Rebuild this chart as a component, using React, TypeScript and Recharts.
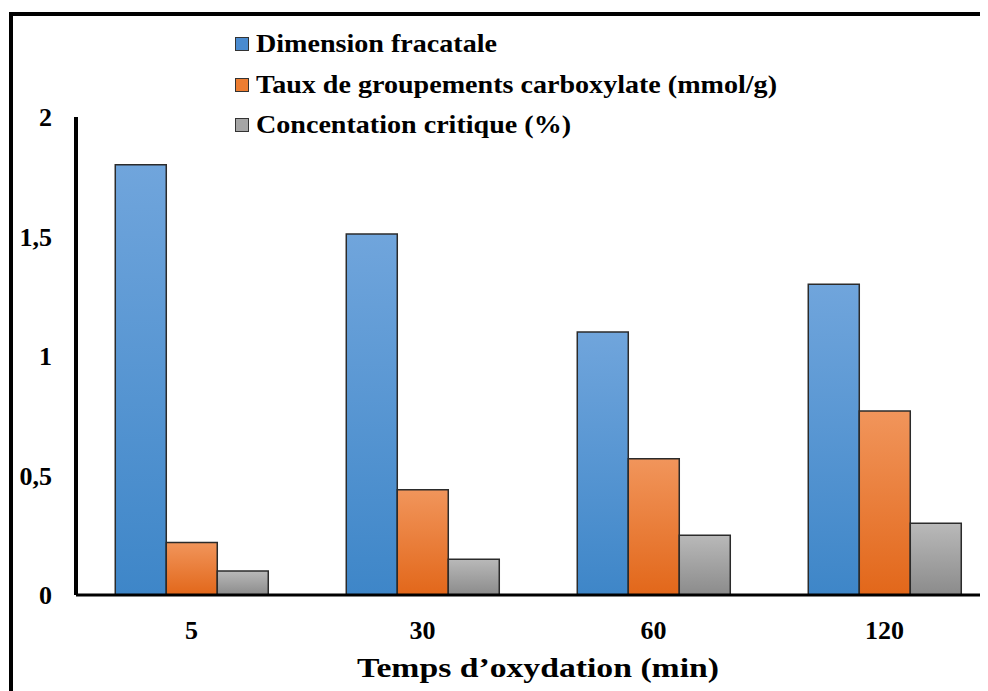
import { BarChart, Bar, XAxis, YAxis, Label } from "recharts";

const temps = ["5", "30", "60", "120"];
const dimensionFractale = [1.8, 1.51, 1.1, 1.3];
const tauxCarboxylate = [0.22, 0.44, 0.57, 0.77];
const concentrationCritique = [0.1, 0.15, 0.25, 0.3];
const yTicks = [0, 0.5, 1, 1.5, 2];

const SERIES = [
  { key: "dim", name: "Dimension fracatale", grad: "gBlue", swatch: "#4a8bd0" },
  { key: "taux", name: "Taux de groupements carboxylate (mmol/g)", grad: "gOrange", swatch: "#ed7d31" },
  { key: "conc", name: "Concentation critique (%)", grad: "gGray", swatch: "#a5a5a5" },
];

const data = temps.map((t, i) => ({
  temps: t,
  dim: dimensionFractale[i],
  taux: tauxCarboxylate[i],
  conc: concentrationCritique[i],
}));

const FONT = '"Liberation Serif", "Times New Roman", serif';

// legend drawn as plain html so it doesn't push the plot area down
function LegendBox() {
  return (
    <div
      style={{
        position: "absolute",
        left: 227,
        top: 16,
        fontFamily: FONT,
        fontWeight: "bold",
        fontSize: 26,
        color: "#000",
      }}
    >
      {SERIES.map((s) => (
        <div key={s.key} style={{ height: 40.5, display: "flex", alignItems: "center", whiteSpace: "nowrap" }}>
          <span
            style={{
              display: "inline-block",
              width: 12,
              height: 12,
              background: s.swatch,
              border: "1.5px solid #333",
              marginRight: 7,
            }}
          />
          <span style={{ display: "inline-block", transform: "scaleX(1.08)", transformOrigin: "left center" }}>
            {s.name}
          </span>
        </div>
      ))}
    </div>
  );
}

export default function App() {
  return (
    <div style={{ position: "relative", width: 980, height: 683, overflow: "hidden", background: "#fff" }}>
      <div
        style={{
          position: "absolute",
          left: 1,
          top: 4,
          width: 1200,
          height: 1000,
          border: "4px solid #000",
          boxSizing: "border-box",
        }}
      />
      <div style={{ position: "absolute", left: 0, top: 0 }}>
        <BarChart
          width={1020}
          height={683}
          data={data}
          margin={{ top: 109, right: 28, bottom: 0, left: 0 }}
          barCategoryGap="17%"
          barGap={0}
        >
          <defs>
            <linearGradient id="gBlue" x1="0" y1="0" x2="0" y2="1">
              <stop offset="0%" stopColor="#70a5dc" />
              <stop offset="100%" stopColor="#3e86c8" />
            </linearGradient>
            <linearGradient id="gOrange" x1="0" y1="0" x2="0" y2="1">
              <stop offset="0%" stopColor="#f1955b" />
              <stop offset="100%" stopColor="#e2671a" />
            </linearGradient>
            <linearGradient id="gGray" x1="0" y1="0" x2="0" y2="1">
              <stop offset="0%" stopColor="#b9b9b9" />
              <stop offset="100%" stopColor="#8b8b8b" />
            </linearGradient>
          </defs>
          <XAxis
            dataKey="temps"
            height={96}
            axisLine={{ stroke: "#000", strokeWidth: 3 }}
            tickLine={false}
            tickSize={6}
            tickMargin={20}
            tick={{ fill: "#000", fontSize: 26, fontWeight: "bold", fontFamily: FONT }}
          >
            <Label
              position="insideBottom"
              content={(props: any) => {
                const vb = props.viewBox || {};
                const cx = vb.x + vb.width / 2;
                const y = vb.y + vb.height - 14;
                return (
                  <text
                    x={cx}
                    y={y}
                    textAnchor="middle"
                    fontFamily={FONT}
                    fontWeight="bold"
                    fontSize={28}
                    fill="#000"
                    textLength={362}
                    lengthAdjust="spacingAndGlyphs"
                  >
                    Temps d’oxydation (min)
                  </text>
                );
              }}
            />
          </XAxis>
          <YAxis
            width={68}
            domain={[0, 2]}
            ticks={yTicks}
            interval={0}
            axisLine={{ stroke: "#000", strokeWidth: 4 }}
            tickLine={false}
            tickSize={6}
            tickMargin={18}
            tickFormatter={(v: number) => String(v).replace(".", ",")}
            tick={{ fill: "#000", fontSize: 26, fontWeight: "bold", fontFamily: FONT }}
          />
          {SERIES.map((s) => (
            <Bar
              key={s.key}
              dataKey={s.key}
              name={s.name}
              fill={`url(#${s.grad})`}
              stroke="#2b2b2b"
              strokeWidth={1.5}
              isAnimationActive={false}
            />
          ))}
        </BarChart>
      </div>
      <LegendBox />
    </div>
  );
}
